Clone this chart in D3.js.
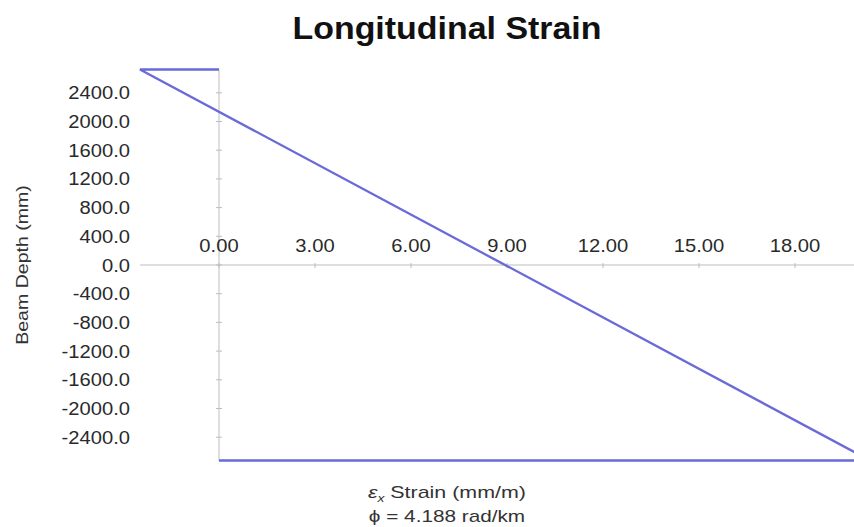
<!DOCTYPE html>
<html>
<head>
<meta charset="utf-8">
<script src="https://cdn.jsdelivr.net/npm/d3@7"></script>
<style>
  body { margin: 0; background: #fff; }
  text { font-family: "Liberation Sans", Arial, sans-serif; }
</style>
</head>
<body>
<svg id="chart" width="854" height="527"></svg>
<script>
// strain profile points (strain in mm/m, depth in mm)
const strainValues = [0, -2.47, 20.35, 0];
const depthValues = [2725, 2725, -2725, -2725];

// tick labels
const xTicks = [0, 3, 6, 9, 12, 15, 18];
const yTicks = [2400, 2000, 1600, 1200, 800, 400, 0, -400, -800, -1200, -1600, -2000, -2400];

const curvature = 4.188;

const svg = d3.select('#chart');

// scales, zero of both axes sits inside the plot
const x = d3.scaleLinear().domain([-2.5, 20]).range([139, 859]);
const y = d3.scaleLinear().domain([-2800, 2800]).range([465.9, 64.1]);

// the original font renders wider than Liberation Sans, stretch text a bit
function stretch(sel, k) {
  sel.each(function () {
    const w = this.getComputedTextLength();
    d3.select(this)
      .attr('textLength', w * k)
      .attr('lengthAdjust', 'spacingAndGlyphs');
  });
}

// title
svg.append('text')
  .attr('x', 447)
  .attr('y', 39)
  .attr('text-anchor', 'middle')
  .attr('font-size', 32)
  .attr('font-weight', 'bold')
  .attr('fill', '#111')
  .text('Longitudinal Strain')
  .call(stretch, 1.06);

// horizontal axis line through zero depth
svg.append('line')
  .attr('x1', 140).attr('x2', 854)
  .attr('y1', y(0)).attr('y2', y(0))
  .attr('stroke', '#bdbdbd')
  .attr('stroke-width', 1);

// vertical axis line through zero strain
svg.append('line')
  .attr('x1', x(0)).attr('x2', x(0))
  .attr('y1', y(2725)).attr('y2', y(-2725))
  .attr('stroke', '#bdbdbd')
  .attr('stroke-width', 1);

// x ticks and labels (labels sit above the axis)
const xg = svg.append('g');
xg.selectAll('line')
  .data(xTicks)
  .join('line')
  .attr('x1', d => x(d)).attr('x2', d => x(d))
  .attr('y1', y(0) - 2).attr('y2', y(0) + 3)
  .attr('stroke', '#bdbdbd');
xg.selectAll('text')
  .data(xTicks)
  .join('text')
  .attr('x', d => x(d))
  .attr('y', y(0) - 13)
  .attr('text-anchor', 'middle')
  .attr('font-size', 18)
  .attr('fill', '#2a2a2a')
  .text(d => d.toFixed(2))
  .call(stretch, 1.12);

// y ticks and labels
const yg = svg.append('g');
yg.selectAll('line')
  .data(yTicks)
  .join('line')
  .attr('x1', x(0) - 3).attr('x2', x(0) + 3)
  .attr('y1', d => y(d)).attr('y2', d => y(d))
  .attr('stroke', '#bdbdbd');
yg.selectAll('text')
  .data(yTicks)
  .join('text')
  .attr('x', 130)
  .attr('y', d => y(d) + 6.5)
  .attr('text-anchor', 'end')
  .attr('font-size', 18)
  .attr('fill', '#2a2a2a')
  .text(d => d.toFixed(1))
  .call(stretch, 1.12);

// strain profile
const line = d3.line()
  .x(d => x(d[0]))
  .y(d => y(d[1]));

svg.append('path')
  .datum(strainValues.map((s, i) => [s, depthValues[i]]))
  .attr('d', line)
  .attr('fill', 'none')
  .attr('stroke', '#6a6ad8')
  .attr('stroke-width', 2.3);

// y axis title
svg.append('text')
  .attr('transform', 'translate(28,265) rotate(-90)')
  .attr('text-anchor', 'middle')
  .attr('font-size', 17)
  .attr('fill', '#333')
  .text('Beam Depth (mm)')
  .call(stretch, 1.15);

// x axis title, two lines
const xt = svg.append('text')
  .attr('x', 447)
  .attr('y', 498)
  .attr('text-anchor', 'middle')
  .attr('font-size', 17)
  .attr('fill', '#333');
xt.append('tspan').attr('font-style', 'italic').text('ε');
xt.append('tspan').attr('font-style', 'italic').attr('font-size', 11).attr('dy', 4).text('x');
xt.append('tspan').attr('dy', -4).text(' Strain (mm/m)');
xt.call(stretch, 1.26);

svg.append('text')
  .attr('x', 447)
  .attr('y', 522)
  .attr('text-anchor', 'middle')
  .attr('font-size', 17)
  .attr('fill', '#333')
  .text('ϕ = ' + curvature.toFixed(3) + ' rad/km')
  .call(stretch, 1.22);
</script>
</body>
</html>
